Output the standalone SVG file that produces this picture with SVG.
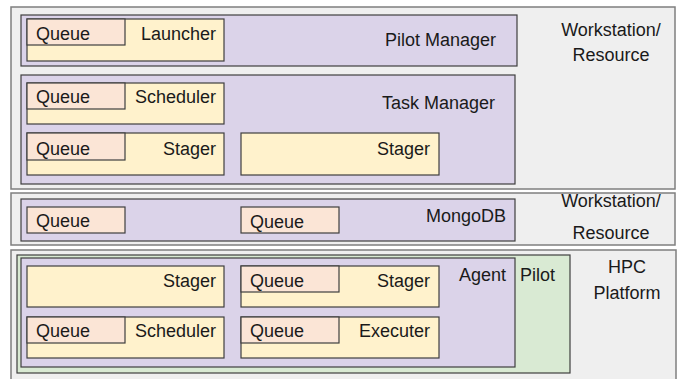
<svg xmlns="http://www.w3.org/2000/svg" width="680" height="379" viewBox="0 0 680 379">
<style>
text{font-family:"Liberation Sans",Arial,sans-serif;font-size:18px;fill:#1a1a1a}
.r{text-anchor:end}
.m{text-anchor:middle}
.outer{fill:#efefef;stroke:#7f7f7f;stroke-width:1.5}
.purple{fill:#dbd3e9;stroke:#3f3f3f;stroke-width:1.2}
.green{fill:#d9ead3;stroke:#3f3f3f;stroke-width:1.2}
.comp{fill:#fff2cc;stroke:#3f3f3f;stroke-width:1.2}
.queue{fill:#fbe5d6;stroke:#3f3f3f;stroke-width:1.2}
</style>
<rect width="680" height="379" fill="#ffffff"/>
<g id="workstation1">
<rect class="outer" x="11" y="7" width="664" height="182"/>
<text class="m" x="611" y="36">Workstation/</text>
<text class="m" x="611" y="61">Resource</text>
</g>
<g id="pilot-manager">
<rect class="purple" x="21" y="15" width="496" height="51"/>
<text class="r" x="496" y="46">Pilot Manager</text>
<g id="pm-launcher">
<rect class="comp" x="27" y="19" width="197" height="42"/>
<rect class="queue" x="27" y="19" width="98" height="26"/>
<text x="36" y="40">Queue</text>
<text class="r" x="216" y="40">Launcher</text>
</g>
</g>
<g id="task-manager">
<rect class="purple" x="21" y="75" width="494" height="109"/>
<text class="r" x="495" y="109">Task Manager</text>
<g id="tm-scheduler">
<rect class="comp" x="27" y="83" width="197" height="41"/>
<rect class="queue" x="27" y="83" width="98" height="26"/>
<text x="36" y="103">Queue</text>
<text class="r" x="216" y="103">Scheduler</text>
</g>
<g id="tm-stager-in">
<rect class="comp" x="27" y="133" width="197" height="42"/>
<rect class="queue" x="27" y="133" width="98" height="27"/>
<text x="36" y="155">Queue</text>
<text class="r" x="216" y="155">Stager</text>
</g>
<g id="tm-stager-out">
<rect class="comp" x="241" y="133" width="198" height="42"/>
<text class="r" x="430" y="155">Stager</text>
</g>
</g>
<g id="workstation2">
<rect class="outer" x="11" y="193" width="664" height="52"/>
<text class="m" x="611" y="207">Workstation/</text>
<text class="m" x="611" y="239">Resource</text>
</g>
<g id="mongodb">
<rect class="purple" x="21" y="199" width="494" height="42"/>
<text class="r" x="506" y="222">MongoDB</text>
<g id="db-queue1">
<rect class="queue" x="27" y="207" width="98" height="26"/>
<text x="36" y="227">Queue</text>
</g>
<g id="db-queue2">
<rect class="queue" x="241" y="207" width="98" height="26"/>
<text x="250" y="228">Queue</text>
</g>
</g>
<g id="hpc">
<rect class="outer" x="11" y="250" width="665" height="140"/>
<text class="m" x="627" y="273">HPC</text>
<text class="m" x="627" y="299">Platform</text>
</g>
<g id="pilot">
<rect class="green" x="17" y="255" width="553" height="118"/>
<text x="520" y="281">Pilot</text>
</g>
<g id="agent">
<rect class="purple" x="21" y="258" width="494" height="109"/>
<text class="r" x="506" y="281">Agent</text>
<g id="ag-stager-in">
<rect class="comp" x="27" y="266" width="197" height="41"/>
<text class="r" x="216" y="287">Stager</text>
</g>
<g id="ag-stager-out">
<rect class="comp" x="241" y="266" width="198" height="41"/>
<rect class="queue" x="241" y="266" width="98" height="26"/>
<text x="250" y="287">Queue</text>
<text class="r" x="430" y="287">Stager</text>
</g>
<g id="ag-scheduler">
<rect class="comp" x="27" y="317" width="197" height="41"/>
<rect class="queue" x="27" y="317" width="98" height="26"/>
<text x="36" y="337">Queue</text>
<text class="r" x="216" y="337">Scheduler</text>
</g>
<g id="ag-executer">
<rect class="comp" x="241" y="317" width="198" height="41"/>
<rect class="queue" x="241" y="317" width="98" height="26"/>
<text x="250" y="337">Queue</text>
<text class="r" x="430" y="337">Executer</text>
</g>
</g>
</svg>
